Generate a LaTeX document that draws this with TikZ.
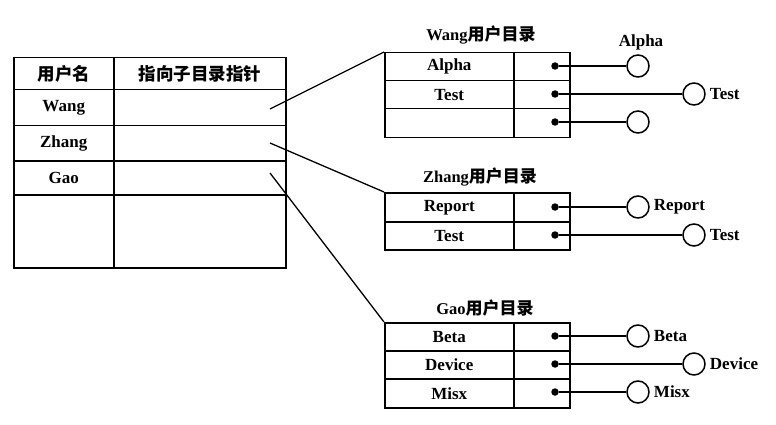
\documentclass[tikz,border=0pt]{standalone}
\usepackage{fontspec}
\setmainfont{Liberation Serif}
\newfontfamily\cjk{Noto Sans CJK SC}
\begin{document}
\begin{tikzpicture}[x=1pt,y=-1pt,
  cell/.style={draw, line width=1.5pt, inner sep=0pt, anchor=north west, font=\bfseries\fontsize{17}{17}\selectfont},
  lname/.style={cell, minimum width=100pt},
  lptr/.style={cell, minimum width=172pt},
  rname/.style={cell, minimum width=129pt, minimum height=28pt},
  rptr/.style={cell, minimum width=56pt, minimum height=28pt},
  dotnode/.style={circle, fill=black, inner sep=0pt, minimum size=7.5pt},
  circnode/.style={circle, draw, line width=1.5pt, inner sep=0pt, minimum size=22pt},
  link/.style={line width=1.3pt},
  lbl/.style={font=\bfseries\fontsize{17}{17}\selectfont, inner sep=1pt},
  ttl/.style={font=\bfseries\fontsize{16.5}{16.5}\selectfont, inner sep=0pt}
]
\useasboundingbox (0,0) rectangle (776,425);
% ---- left table ----
\node[lname, minimum height=32pt] (h1) at (13,57) {\cjk\bfseries\fontsize{17.5}{17.5}\selectfont 用户名};
\node[lptr, minimum height=32pt] (h2) at (113,57) {\cjk\bfseries\fontsize{17.5}{17.5}\selectfont 指向子目录指针};
\node[lname, minimum height=36pt] (r1a) at (13,89) {Wang};
\node[lptr, minimum height=36pt] (r1b) at (113,89) {};
\node[lname, minimum height=35pt] (r2a) at (13,125) {Zhang};
\node[lptr, minimum height=35pt] (r2b) at (113,125) {};
\node[lname, minimum height=34pt] (r3a) at (13,160) {Gao};
\node[lptr, minimum height=34pt] (r3b) at (113,160) {};
\node[lname, minimum height=73pt] (r4a) at (13,194) {};
\node[lptr, minimum height=73pt] (r4b) at (113,194) {};
\coordinate (pw) at (270,109);
\coordinate (pz) at (270,143);
\coordinate (pg) at (270,173);

% ---- Wang directory ----
\node[ttl] (wt) at (481,35) {Wang{\cjk\bfseries\fontsize{17}{17}\selectfont 用户目录}};
\node[rname] (w1a) at (384,52) {Alpha};
\node[rptr] (w1b) at (513,52) {};
\node[rname] (w2a) at (384,80) {Test};
\node[rptr] (w2b) at (513,80) {};
\node[rname, minimum height=29pt] (w3a) at (384,108) {};
\node[rptr, minimum height=29pt] (w3b) at (513,108) {};
\node[dotnode] (wd1) at (555,66) {};
\node[dotnode] (wd2) at (555,94) {};
\node[dotnode] (wd3) at (555,122) {};
\node[circnode] (wc1) at (638,66) {};
\node[circnode] (wc2) at (694,94) {};
\node[circnode] (wc3) at (638,122) {};
\draw[link] (wd1) -- (wc1);
\draw[link] (wd2) -- (wc2);
\draw[link] (wd3) -- (wc3);
\node[lbl] (wl1) at (641,42) {Alpha};
\node[lbl, anchor=west] (wl2) at ([xshift=3pt]wc2.east) {Test};

% ---- Zhang directory ----
\node[ttl] (zt) at (480,177) {Zhang{\cjk\bfseries\fontsize{17}{17}\selectfont 用户目录}};
\node[rname, minimum height=29pt] (z1a) at (384,192) {Report};
\node[rptr, minimum height=29pt] (z1b) at (513,192) {};
\node[rname] (z2a) at (384,221) {Test};
\node[rptr] (z2b) at (513,221) {};
\node[dotnode] (zd1) at (555,207) {};
\node[dotnode] (zd2) at (555,235) {};
\node[circnode] (zc1) at (638,207) {};
\node[circnode] (zc2) at (694,235) {};
\draw[link] (zd1) -- (zc1);
\draw[link] (zd2) -- (zc2);
\node[lbl, anchor=west] (zl1) at ([xshift=3pt]zc1.east) {Report};
\node[lbl, anchor=west] (zl2) at ([xshift=3pt]zc2.east) {Test};

% ---- Gao directory ----
\node[ttl] (gt) at (485,308) {Gao{\cjk\bfseries\fontsize{17}{17}\selectfont 用户目录}};
\node[rname] (g1a) at (384,322) {Beta};
\node[rptr] (g1b) at (513,322) {};
\node[rname] (g2a) at (384,350) {Device};
\node[rptr] (g2b) at (513,350) {};
\node[rname, minimum height=29pt] (g3a) at (384,378) {Misx};
\node[rptr, minimum height=29pt] (g3b) at (513,378) {};
\node[dotnode] (gd1) at (555,336) {};
\node[dotnode] (gd2) at (555,364) {};
\node[dotnode] (gd3) at (555,392) {};
\node[circnode] (gc1) at (638,336) {};
\node[circnode] (gc2) at (694,364) {};
\node[circnode] (gc3) at (638,392) {};
\draw[link] (gd1) -- (gc1);
\draw[link] (gd2) -- (gc2);
\draw[link] (gd3) -- (gc3);
\node[lbl, anchor=west] (gl1) at ([xshift=3pt]gc1.east) {Beta};
\node[lbl, anchor=west] (gl2) at ([xshift=3pt]gc2.east) {Device};
\node[lbl, anchor=west] (gl3) at ([xshift=3pt]gc3.east) {Misx};

% ---- pointers from the user table ----
\draw[link] (pw) -- (w1a.north west);
\draw[link] (pz) -- (z1a.north west);
\draw[link] (pg) -- (g1a.north west);
\end{tikzpicture}
\end{document}
